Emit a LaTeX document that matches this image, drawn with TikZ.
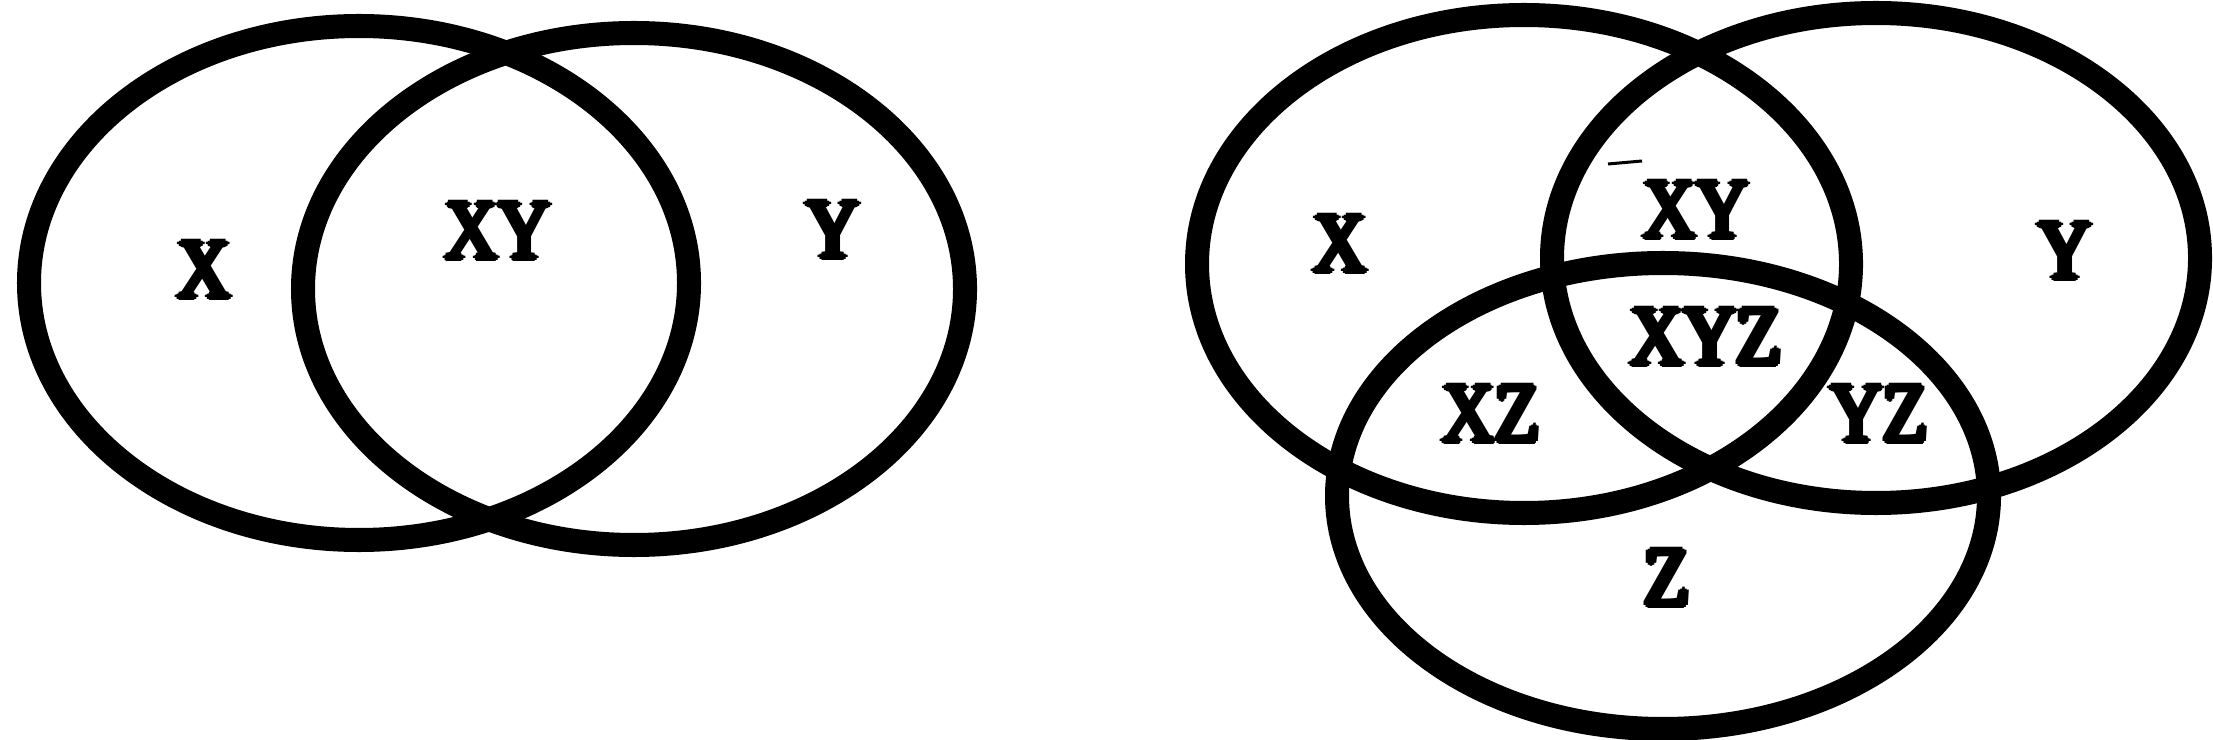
\documentclass[tikz,border=0pt]{standalone}
\usepackage{fontspec}
\newfontfamily\labfont{Liberation Serif}
\newcommand\heavy[1]{%
 \makebox[0pt][l]{#1}%
 \makebox[0pt][l]{\hspace{1.2pt}\raisebox{0.9pt}{#1}}%
 \makebox[0pt][l]{\hspace{1.2pt}\raisebox{-0.9pt}{#1}}%
 \makebox[0pt][l]{\hspace{0.6pt}\raisebox{0.45pt}{#1}}%
 \makebox[0pt][l]{\hspace{0.6pt}\raisebox{-0.45pt}{#1}}%
 \makebox[0pt][l]{\hspace{1.8pt}\raisebox{0.45pt}{#1}}%
 \makebox[0pt][l]{\hspace{1.8pt}\raisebox{-0.45pt}{#1}}%
 \makebox[0pt][l]{\hspace{1.2pt}#1}%
 \hspace{2.4pt}#1}
\begin{document}
\begin{tikzpicture}[x=0.01cm,y=-0.01cm,
  ring/.style={line width=0.24cm, draw=black},
  lab/.style={font=\labfont\fontsize{24}{28}\selectfont, xscale=0.87, inner sep=0pt}]
\useasboundingbox (0,0) rectangle (2213,740);
% left diagram
\draw[ring] (359,283) ellipse [x radius=330, y radius=257];
\draw[ring] (634,289) ellipse [x radius=331, y radius=256];
\node[lab] (lx)  at (204,270) {\heavy{X}};
\node[lab] (lxy) at (498,231) {\heavy{XY}};
\node[lab] (ly)  at (833,230) {\heavy{Y}};
% right diagram
\draw[ring] (1524,264) ellipse [x radius=327, y radius=249];
\draw[ring] (1876,258) ellipse [x radius=324, y radius=245];
\draw[ring] (1663,496) ellipse [x radius=326, y radius=233];
\node[lab] (rx)   at (1340,244) {\heavy{X}};
\node[lab] (rxy)  at (1696,210) {\heavy{XY}};
\node[lab] (ry)   at (2065,251) {\heavy{Y}};
\node[lab] (rxyz) at (1706,337) {\heavy{XYZ}};
\node[lab] (rxz)  at (1491,414) {\heavy{XZ}};
\node[lab] (ryz)  at (1879,414) {\heavy{YZ}};
\node[lab] (rz)   at (1667,578) {\heavy{Z}};
\draw[line width=0.03cm] (1608,164) -- (1642,161);
\end{tikzpicture}
\end{document}
